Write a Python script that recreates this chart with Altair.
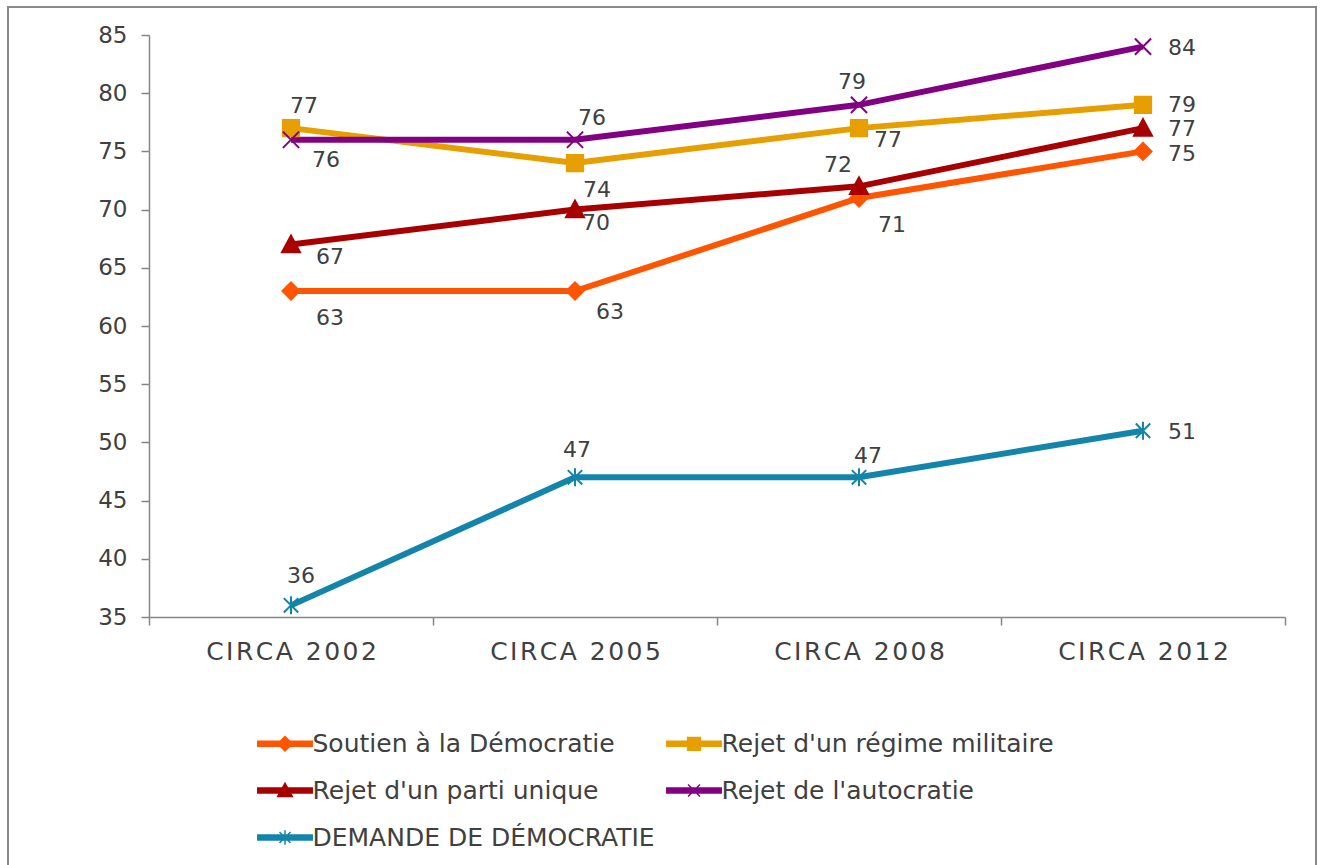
import altair as alt
import pandas as pd

# ---- data ----
categories = ["CIRCA 2002", "CIRCA 2005", "CIRCA 2008", "CIRCA 2012"]
series_names = [
    "Soutien à la Démocratie",
    "Rejet d'un régime militaire",
    "Rejet d'un parti unique",
    "Rejet de l'autocratie",
    "DEMANDE DE DÉMOCRATIE",
]
soutien = [63, 63, 71, 75]
militaire = [77, 74, 77, 79]
parti = [67, 70, 72, 77]
autocratie = [76, 76, 79, 84]
demande = [36, 47, 47, 51]
values = [soutien, militaire, parti, autocratie, demande]

# ---- styling ----
colors = ["#FF5500", "#E69E00", "#A80000", "#820082", "#1384AA"]
# label placement (pixel offsets from each point), per series and category
label_dx = [
    [39, 35, 33, 39],
    [13, 22, 29, 39],
    [39, 21, -21, 39],
    [35, 17, -7, 39],
    [10, 2, 9, 39],
]
label_dy = [
    [27, 21, 27, 3],
    [-22, 27, 12, 0],
    [12, 13, -21, 1],
    [20, -22, -23, 1],
    [-29, -27, -21, 1],
]
marker_paths = [
    "M-0.95,0L0,-0.95L0.95,0L0,0.95Z",
    "M-0.9,-0.9L0.9,-0.9L0.9,0.9L-0.9,0.9Z",
    "M-1,0.85L0,-1L1,0.85Z",
    "M-0.9,-0.9L0.9,0.9M-0.9,0.9L0.9,-0.9",
    "M-0.8,-0.8L0.8,0.8M-0.8,0.8L0.8,-0.8M0,-1L0,1",
]
bar = "M-3.2,-0.3L3.2,-0.3L3.2,0.3L-3.2,0.3Z"
legend_paths = [
    bar + "M-0.85,0L0,-0.85L0.85,0L0,0.85Z",
    bar + "M-0.75,-0.75L0.75,-0.75L0.75,0.75L-0.75,0.75Z",
    bar + "M-0.85,0.7L0,-0.85L0.85,0.7Z",
    bar + "M-0.7,-0.7L0.7,0.7M-0.7,0.7L0.7,-0.7",
    bar + "M-0.65,-0.65L0.65,0.65M-0.65,0.65L0.65,-0.65M0,-0.85L0,0.85",
]

FONT = "DejaVu Sans"
TXT = "#404040"
AX = "#868686"

rows = []
for si, name in enumerate(series_names):
    for ci, cat in enumerate(categories):
        rows.append({
            "series": name,
            "si": si,
            "ci": ci,
            "cat": cat,
            "value": values[si][ci],
        })
df = pd.DataFrame(rows)

x_enc = alt.X(
    "cat:N",
    sort=categories,
    scale=alt.Scale(type="band", paddingInner=0, paddingOuter=0),
    axis=alt.Axis(
        title=None, labelAngle=0, tickBand="extent", tickSize=8,
        labelPadding=14, labelFontSize=25, labelFont=FONT, labelColor=TXT,
        domainColor=AX, tickColor=AX, domainWidth=1.5, tickWidth=1.5,
        labelExpr="join(split(datum.label, ''), '\u200a')",
    ),
)
y_enc = alt.Y(
    "value:Q",
    scale=alt.Scale(domain=[35, 85], nice=False, zero=False),
    axis=alt.Axis(
        title=None, values=list(range(35, 90, 5)), grid=False, tickSize=8,
        labelPadding=14, labelFontSize=23, labelFont=FONT, labelColor=TXT,
        domainColor=AX, tickColor=AX, domainWidth=1.5, tickWidth=1.5,
    ),
)
cscale = alt.Scale(domain=series_names, range=colors)

frame = alt.Chart(df).mark_rect(fill=None, stroke="#8A8A8A", strokeWidth=1.5).encode(
    x=alt.value(-141), x2=alt.value(1167), y=alt.value(-28), y2=alt.value(845)
)

lines = alt.Chart(df).mark_line(strokeWidth=6).encode(
    x=x_enc, y=y_enc,
    color=alt.Color("series:N", scale=cscale, legend=None),
    order="si:Q",
)

markers = alt.Chart(df).mark_point(filled=True, opacity=1, size=324, strokeWidth=2).encode(
    x=x_enc, y=y_enc,
    color=alt.Color("series:N", scale=cscale, legend=None),
    stroke=alt.Stroke("series:N", scale=cscale, legend=None),
    shape=alt.Shape("series:N", scale=alt.Scale(domain=series_names, range=marker_paths), legend=None),
)

leg = dict(
    title=None, orient="none", legendX=106, legendY=696, columns=2, direction="horizontal",
    symbolSize=289, symbolStrokeWidth=1.5, symbolOffset=17.5, labelOffset=15,
    labelFont=FONT, labelFontSize=25, labelColor=TXT,
    rowPadding=21, columnPadding=8, labelLimit=500, symbolOpacity=1,
)
legend_layer = alt.Chart(df).mark_point(filled=True, opacity=1).encode(
    x=x_enc, y=y_enc,
    color=alt.Color("series:N", scale=cscale, legend=alt.Legend(**leg)),
    stroke=alt.Stroke("series:N", scale=cscale, legend=alt.Legend(**leg)),
    shape=alt.Shape("series:N", scale=alt.Scale(domain=series_names, range=legend_paths),
                    legend=alt.Legend(**leg)),
).transform_filter("false")

label_layers = []
for si in range(len(series_names)):
    for ci in range(len(categories)):
        label_layers.append(
            alt.Chart(df)
            .transform_filter((alt.datum.si == si) & (alt.datum.ci == ci))
            .mark_text(font=FONT, fontSize=22, color=TXT,
                       dx=label_dx[si][ci], dy=label_dy[si][ci])
            .encode(x=x_enc, y=y_enc, text=alt.Text("value:Q"))
        )

chart = alt.layer(frame, lines, markers, legend_layer, *label_layers).resolve_scale(
    color="independent", shape="independent", stroke="independent"
).resolve_legend(
    color="independent", shape="independent", stroke="independent"
).properties(
    width=1136, height=582,
    autosize=alt.AutoSizeParams(type="none"),
    padding={"left": 149, "top": 35, "right": 35, "bottom": 248},
    background="white",
).configure_view(stroke=None)

chart.save("out.html", embed_options={"renderer": "svg", "actions": False})
